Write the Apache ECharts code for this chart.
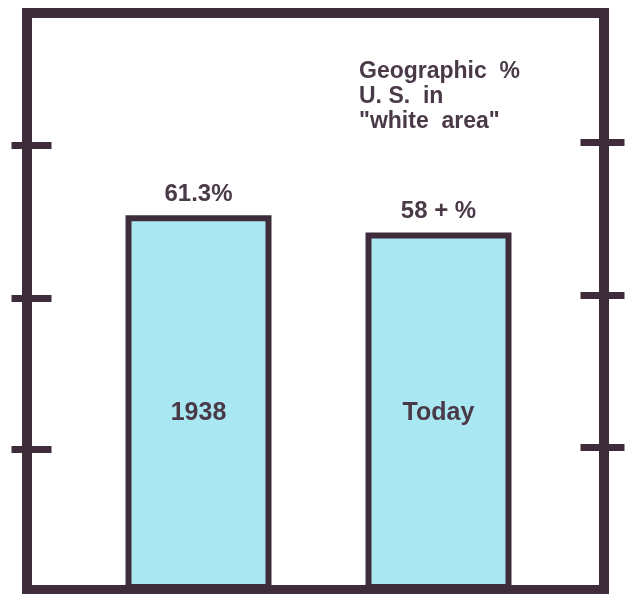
<!DOCTYPE html>
<html>
<head>
<meta charset="utf-8">
<script src="https://cdn.jsdelivr.net/npm/echarts@6/dist/echarts.min.js"></script>
<style>
  html, body { margin: 0; padding: 0; background: #fff; }
  #chart { width: 628px; height: 594px; }
</style>
</head>
<body>
<div id="chart"></div>
<script>
var categories = ['1938', 'Today']
var values = [61.3, 58.5]
var valueLabels = ['61.3%', '58 + %']
var leftTicks = [23.1, 47.8, 72.8]
var rightTicks = [23.4, 48.3, 73.2]
var yMax = 94.4

var ink = '#3e2c3a'
var textInk = '#4a3a48'
var font = 'Liberation Sans'

function frameY(pos, ticks, inside, len, showLine) {
    return {
        gridIndex: 0,
        type: 'value',
        position: pos,
        min: 0,
        max: yMax,
        z: 5,
        axisLine: { show: showLine, onZero: false, lineStyle: { color: ink, width: 10, cap: 'square' } },
        axisTick: {
            show: true,
            inside: inside,
            length: len,
            customValues: ticks,
            lineStyle: { color: ink, width: 7 }
        },
        axisLabel: { show: false },
        splitLine: { show: false }
    }
}

function frameX(pos) {
    return {
        gridIndex: 0,
        type: 'value',
        position: pos,
        min: 0,
        max: 1,
        z: 5,
        axisLine: { show: true, onZero: false, lineStyle: { color: ink, width: 10, cap: 'square' } },
        axisTick: { show: false },
        axisLabel: { show: false },
        splitLine: { show: false }
    }
}

var option = {
    animation: false,
    backgroundColor: '#fff',
    title: {
        text: 'Geographic  %\nU. S.  in\n"white  area"',
        left: 354,
        top: 54,
        textStyle: {
            color: textInk,
            fontFamily: font,
            fontWeight: 'bold',
            fontSize: 23,
            lineHeight: 25
        }
    },
    grid: [
        { left: 27, right: 24, top: 13, bottom: 4 },
        { left: 78.5, right: 69.5, top: 13, bottom: 4 }
    ],
    xAxis: [
        frameX('bottom'),
        frameX('top'),
        {
            gridIndex: 1,
            type: 'category',
            data: categories,
            z: 5,
            axisLine: { show: false, onZero: false },
            axisTick: { show: false },
            axisLabel: {
                inside: true,
                margin: 164,
                color: textInk,
                fontFamily: font,
                fontWeight: 'bold',
                fontSize: 25
            }
        }
    ],
    yAxis: [
        frameY('left', leftTicks, false, 15.5, true),
        frameY('left', leftTicks, true, 24.5, false),
        frameY('right', rightTicks, false, 20.5, true),
        frameY('right', rightTicks, true, 23.5, false),
        { gridIndex: 1, type: 'value', min: 0, max: yMax, show: false }
    ],
    series: [{
        type: 'bar',
        xAxisIndex: 2,
        yAxisIndex: 4,
        data: values,
        barWidth: 146,
        itemStyle: {
            color: '#a9e7f3',
            borderColor: ink,
            borderWidth: 6
        },
        label: {
            show: true,
            position: 'top',
            distance: 9,
            formatter: function (p) { return valueLabels[p.dataIndex] },
            color: textInk,
            fontFamily: font,
            fontWeight: 'bold',
            fontSize: 24
        }
    }]
}

var chart = echarts.init(document.getElementById('chart'))
chart.setOption(option)
</script>
</body>
</html>
